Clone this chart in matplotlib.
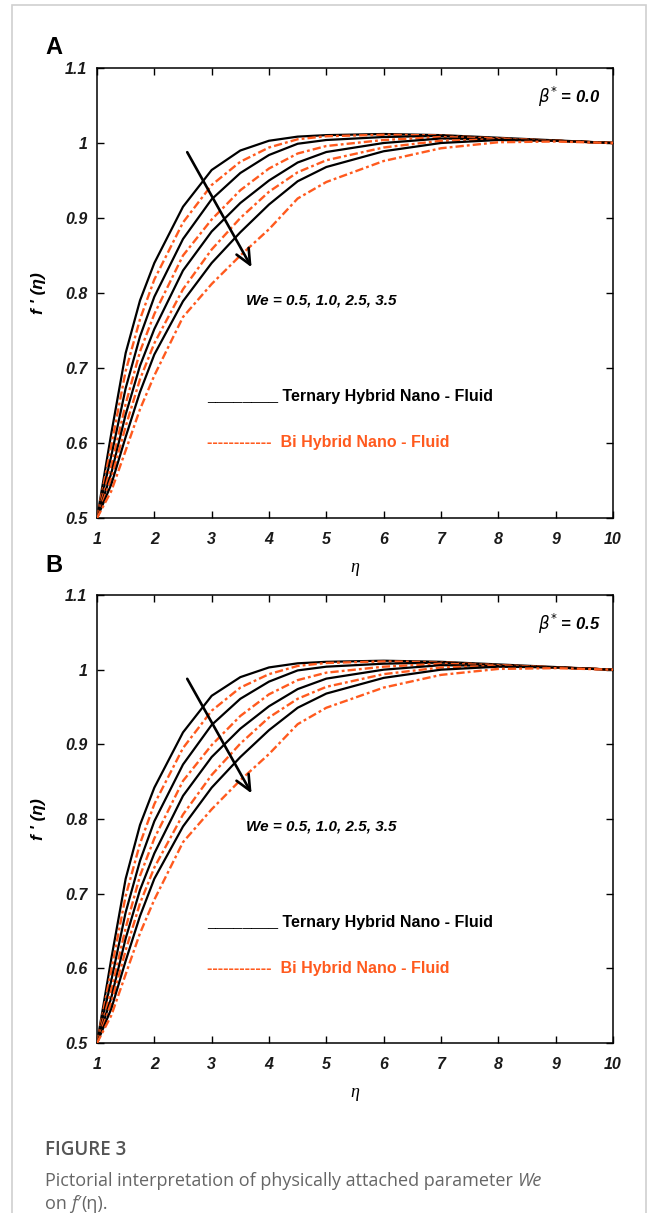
import matplotlib
matplotlib.use("Agg")
import matplotlib.pyplot as plt
from matplotlib.patches import Rectangle

# eta grid the curves were read at
eta = [1, 1.25, 1.5, 1.75, 2, 2.5, 3, 3.5, 4, 4.5, 5, 6, 7, 8, 9, 10]

# panel A (beta* = 0.0): ternary (black) and bi hybrid (orange), We = 0.5, 1.0, 2.5, 3.5
tern_a = [
    [0.5, 0.613, 0.720, 0.790, 0.840, 0.915, 0.964, 0.990, 1.003, 1.0085, 1.0105, 1.012, 1.0105, 1.007, 1.0035, 1.0],
    [0.5, 0.583, 0.673, 0.742, 0.795, 0.872, 0.925, 0.960, 0.984, 0.999, 1.004, 1.008, 1.0095, 1.006, 1.003, 1.0],
    [0.5, 0.560, 0.638, 0.703, 0.752, 0.830, 0.882, 0.920, 0.950, 0.974, 0.988, 1.000, 1.006, 1.005, 1.003, 1.0],
    [0.5, 0.545, 0.608, 0.668, 0.718, 0.789, 0.840, 0.881, 0.918, 0.949, 0.968, 0.989, 1.000, 1.004, 1.003, 1.0],
]
bi_a = [
    [0.5, 0.597, 0.696, 0.765, 0.818, 0.894, 0.944, 0.975, 0.994, 1.005, 1.009, 1.011, 1.010, 1.006, 1.003, 1.0],
    [0.5, 0.570, 0.652, 0.722, 0.772, 0.850, 0.898, 0.937, 0.966, 0.986, 0.996, 1.004, 1.008, 1.006, 1.003, 1.0],
    [0.5, 0.553, 0.622, 0.685, 0.733, 0.805, 0.858, 0.900, 0.935, 0.961, 0.977, 0.994, 1.003, 1.005, 1.003, 1.0],
    [0.5, 0.536, 0.590, 0.645, 0.690, 0.768, 0.812, 0.850, 0.885, 0.926, 0.948, 0.976, 0.993, 1.001, 1.002, 1.0],
]
# panel B (beta* = 0.5)
tern_b = [
    [0.5, 0.613, 0.720, 0.792, 0.842, 0.916, 0.965, 0.990, 1.003, 1.0085, 1.0105, 1.012, 1.0105, 1.007, 1.0035, 1.0],
    [0.5, 0.584, 0.675, 0.744, 0.797, 0.873, 0.926, 0.961, 0.984, 0.999, 1.004, 1.008, 1.0095, 1.006, 1.003, 1.0],
    [0.5, 0.561, 0.640, 0.705, 0.754, 0.831, 0.883, 0.921, 0.951, 0.974, 0.988, 1.000, 1.006, 1.005, 1.003, 1.0],
    [0.5, 0.546, 0.610, 0.670, 0.720, 0.790, 0.842, 0.883, 0.919, 0.949, 0.968, 0.989, 1.000, 1.004, 1.003, 1.0],
]
bi_b = [
    [0.5, 0.598, 0.697, 0.767, 0.820, 0.895, 0.945, 0.976, 0.994, 1.005, 1.009, 1.011, 1.010, 1.006, 1.003, 1.0],
    [0.5, 0.571, 0.654, 0.724, 0.774, 0.851, 0.899, 0.938, 0.967, 0.986, 0.996, 1.004, 1.008, 1.006, 1.003, 1.0],
    [0.5, 0.554, 0.624, 0.687, 0.735, 0.806, 0.859, 0.901, 0.936, 0.961, 0.977, 0.994, 1.003, 1.005, 1.003, 1.0],
    [0.5, 0.537, 0.592, 0.647, 0.692, 0.769, 0.813, 0.852, 0.887, 0.927, 0.949, 0.976, 0.993, 1.001, 1.002, 1.0],
]

x_ticks = [1, 2, 3, 4, 5, 6, 7, 8, 9, 10]
y_ticks = [0.5, 0.6, 0.7, 0.8, 0.9, 1.0, 1.1]
y_tick_labels = ["0.5", "0.6", "0.7", "0.8", "0.9", "1", "1.1"]

ORANGE = "#ff5a1e"
FONT = "Liberation Sans"
CAP = "Open Sans"

fig = plt.figure(figsize=(6.58, 12.13), dpi=100)

# light frame around the figure
fig.patches.append(Rectangle((12 / 658, -0.01), 634 / 658, 1 - 5 / 1213 + 0.01,
                             transform=fig.transFigure, fill=False,
                             edgecolor="#d0d0d0", lw=1.2))


def draw_panel(ax, tern, bi, beta_txt):
    for t, b in zip(tern, bi):
        ax.plot(eta, t, color="black", lw=1.6, zorder=3)
        ax.plot(eta, b, color=ORANGE, lw=1.7, ls=(0, (3.5, 1.3, 1.2, 1.3)), zorder=3)
    ax.set_xlim(1, 10)
    ax.set_ylim(0.5, 1.1)
    ax.set_xticks(x_ticks)
    ax.set_yticks(y_ticks)
    ax.set_yticklabels(y_tick_labels)
    ax.tick_params(direction="in", top=True, right=True, length=5, width=1)
    ax.tick_params(axis="x", pad=10)
    ax.tick_params(axis="y", pad=7)
    for lab in ax.get_xticklabels() + ax.get_yticklabels():
        lab.set_fontfamily(FONT)
        lab.set_fontweight("bold")
        lab.set_fontstyle("italic")
        lab.set_fontsize(11.5)
        lab.set_color("#1a1a1a")
    for s in ax.spines.values():
        s.set_linewidth(1.1)
    ax.set_xlabel("η", fontsize=13, fontfamily="Liberation Serif",
                  fontstyle="italic", labelpad=9)
    ax.set_ylabel("f ' (η)", fontsize=12.5, fontfamily=FONT,
                  fontweight="bold", fontstyle="italic", labelpad=14)

    ax.annotate("", xy=(3.72, 0.831), xytext=(2.55, 0.991),
                arrowprops=dict(arrowstyle="->,head_length=1.1,head_width=0.5",
                                color="black", lw=1.9), zorder=5)
    ax.text(3.6, 0.79, "We = 0.5, 1.0, 2.5, 3.5", fontsize=11, fontfamily=FONT,
            fontweight="bold", fontstyle="italic", va="center", ha="left")
    ax.text(9.78, 1.061, r"$\beta^{*}$ = " + beta_txt, fontsize=12, fontfamily=FONT,
            fontweight="bold", fontstyle="italic", va="center", ha="right")
    ax.text(2.92, 0.652, "________ Ternary Hybrid Nano - Fluid", fontsize=11.5,
            fontfamily=FONT, fontweight="bold", va="bottom", ha="left")
    ax.text(2.92, 0.600, "------------  Bi Hybrid Nano - Fluid", fontsize=11.5,
            fontfamily=FONT, fontweight="bold", color=ORANGE, va="center", ha="left")


ax_a = fig.add_axes([97 / 658, 1 - 518 / 1213, 516 / 658, 450 / 1213])
draw_panel(ax_a, tern_a, bi_a, "0.0")
ax_b = fig.add_axes([97 / 658, 1 - 1043 / 1213, 516 / 658, 448 / 1213])
draw_panel(ax_b, tern_b, bi_b, "0.5")

fig.text(45 / 658, 1 - 47 / 1213, "A", fontsize=17, fontweight="bold",
         fontfamily=FONT, va="center", ha="left")
fig.text(45 / 658, 1 - 565 / 1213, "B", fontsize=17, fontweight="bold",
         fontfamily=FONT, va="center", ha="left")

fig.text(45 / 658, 1 - 1150 / 1213, "FIGURE 3", fontsize=13.5, fontfamily=CAP,
         fontweight="semibold", color="#555555", va="center", ha="left")
t1 = fig.text(45 / 658, 1 - 1181 / 1213,
              "Pictorial interpretation of physically attached parameter ",
              fontsize=13, fontfamily=CAP, color="#666666", va="center", ha="left")
fig.canvas.draw()
bb = t1.get_window_extent()
fig.text(bb.x1 / fig.bbox.width, 1 - 1181 / 1213, "We", fontsize=13, fontfamily=CAP,
         fontstyle="italic", color="#666666", va="center", ha="left")
t2 = fig.text(45 / 658, 1 - 1204 / 1213, "on ", fontsize=13, fontfamily=CAP,
              color="#666666", va="center", ha="left")
fig.canvas.draw()
bb2 = t2.get_window_extent()
t3 = fig.text(bb2.x1 / fig.bbox.width, 1 - 1204 / 1213, "f′", fontsize=13,
              fontfamily=CAP, fontstyle="italic", color="#666666", va="center", ha="left")
fig.canvas.draw()
bb3 = t3.get_window_extent()
fig.text(bb3.x1 / fig.bbox.width, 1 - 1204 / 1213, "(η).", fontsize=13,
         fontfamily=CAP, color="#666666", va="center", ha="left")

fig.savefig("out.png", dpi=100)
